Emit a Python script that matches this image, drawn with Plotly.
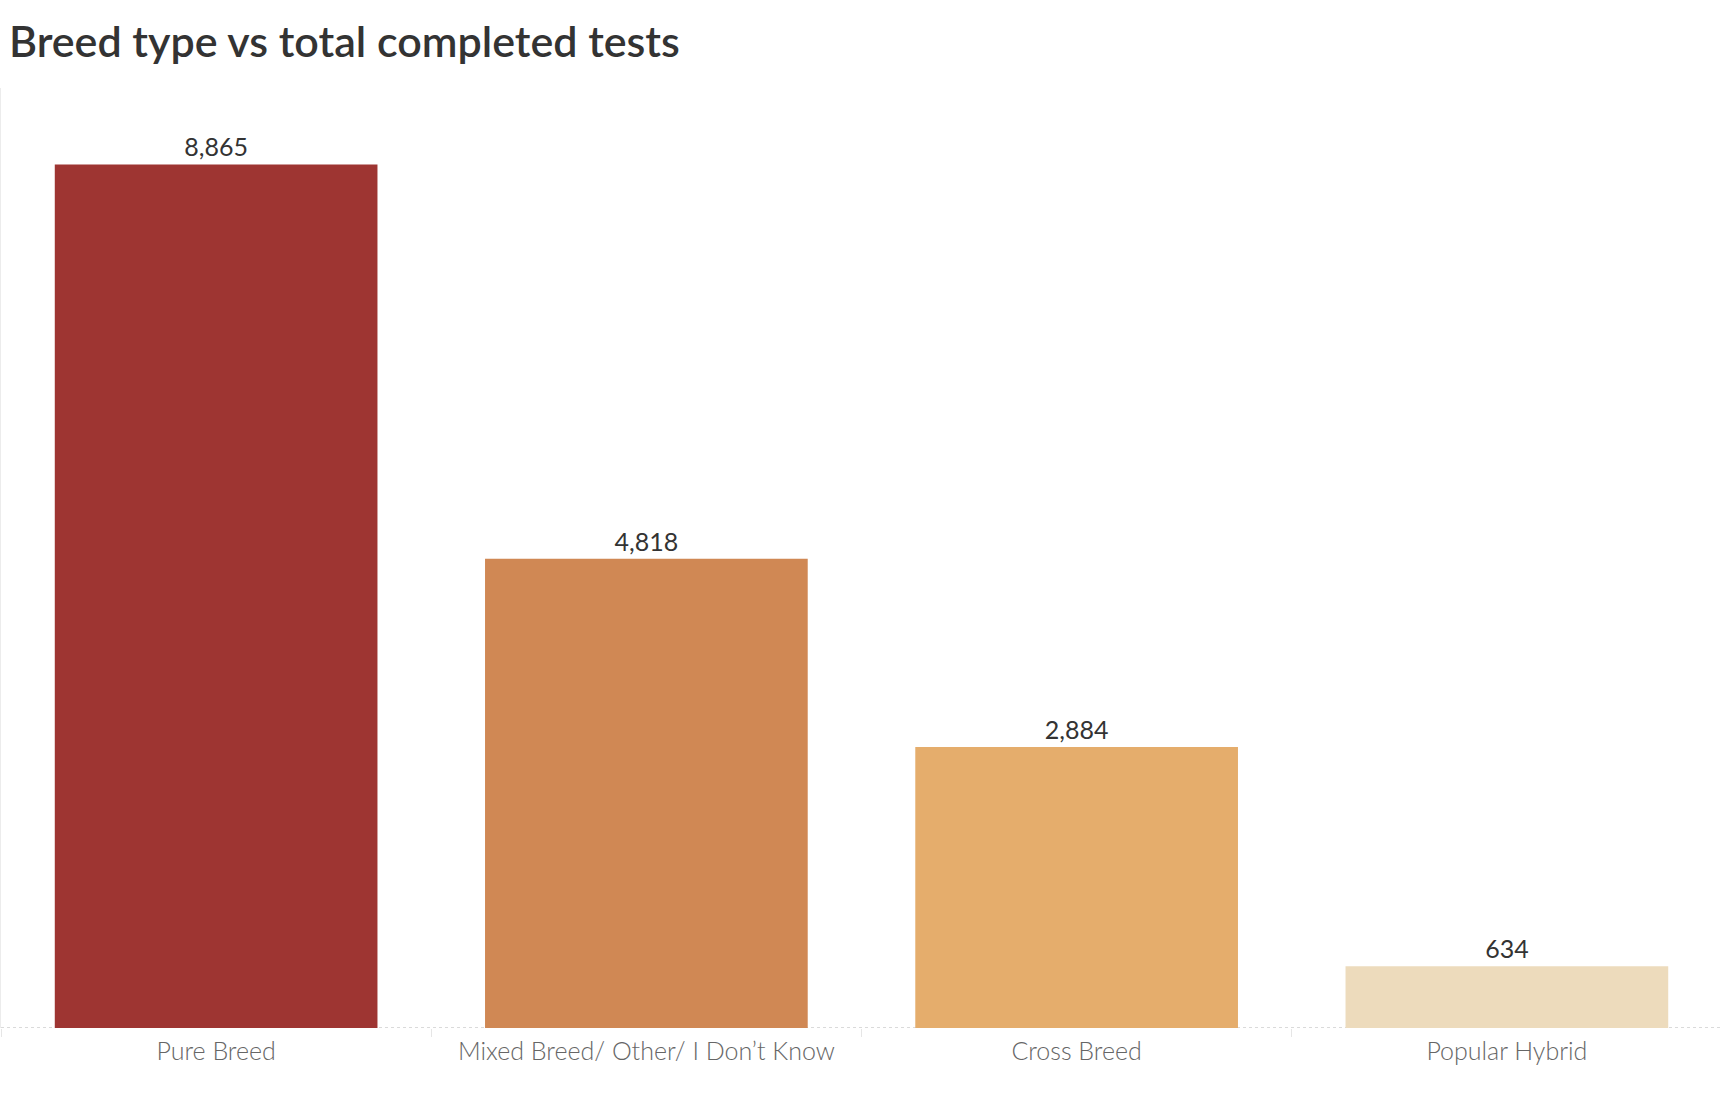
import plotly.graph_objects as go

# Breed type vs total completed tests
breed_types = ["Pure Breed", "Mixed Breed/ Other/ I Don\u2019t Know", "Cross Breed", "Popular Hybrid"]
completed_tests = [8865, 4818, 2884, 634]
bar_colors = ["#9E3532", "#D08854", "#E5AD6C", "#EDDBBC"]

fig = go.Figure()

fig.add_trace(
    go.Bar(
        x=breed_types,
        y=completed_tests,
        marker=dict(color=bar_colors, line=dict(width=0)),
        texttemplate="%{y:,}",
        textposition="outside",
        textfont=dict(family="Lato", size=25, color="#333333"),
        cliponaxis=False,
        hoverinfo="x+y",
    )
)

# dashed baseline along y = 0, drawn under the bars
fig.add_shape(
    type="line",
    xref="paper", x0=0, x1=1,
    yref="y", y0=0, y1=0,
    line=dict(color="#b4b4b4", width=1, dash="dot"),
    layer="below",
)

fig.update_layout(
    width=1722,
    height=1108,
    margin=dict(l=1, r=0, t=88, b=80),
    paper_bgcolor="white",
    plot_bgcolor="white",
    bargap=0.25,
    showlegend=False,
    title=dict(
        text="Breed type vs total completed tests",
        font=dict(family="Lato", size=43, color="#333333", weight=600),
        xref="container",
        yref="container",
        x=9 / 1722,
        xanchor="left",
        y=1 - 42 / 1108,
        yanchor="middle",
    ),
)

fig.update_xaxes(
    showgrid=False,
    showline=False,
    ticks="outside",
    tickson="boundaries",
    ticklen=8,
    tickcolor="#e6e6e6",
    ticklabelstandoff=6,
    tickfont=dict(family="Lato", size=25, color="#666666", weight=300),
)

fig.update_yaxes(
    range=[0, 9650],
    showticklabels=False,
    showgrid=False,
    zeroline=False,
    showline=True,
    linecolor="#ececec",
    linewidth=1,
)

# the page has a default 8px body margin; remove it so the figure sits at the window edge
fig.write_html(
    "out.html",
    config={"displayModeBar": False},
    post_script="document.body.style.margin='0';",
)
